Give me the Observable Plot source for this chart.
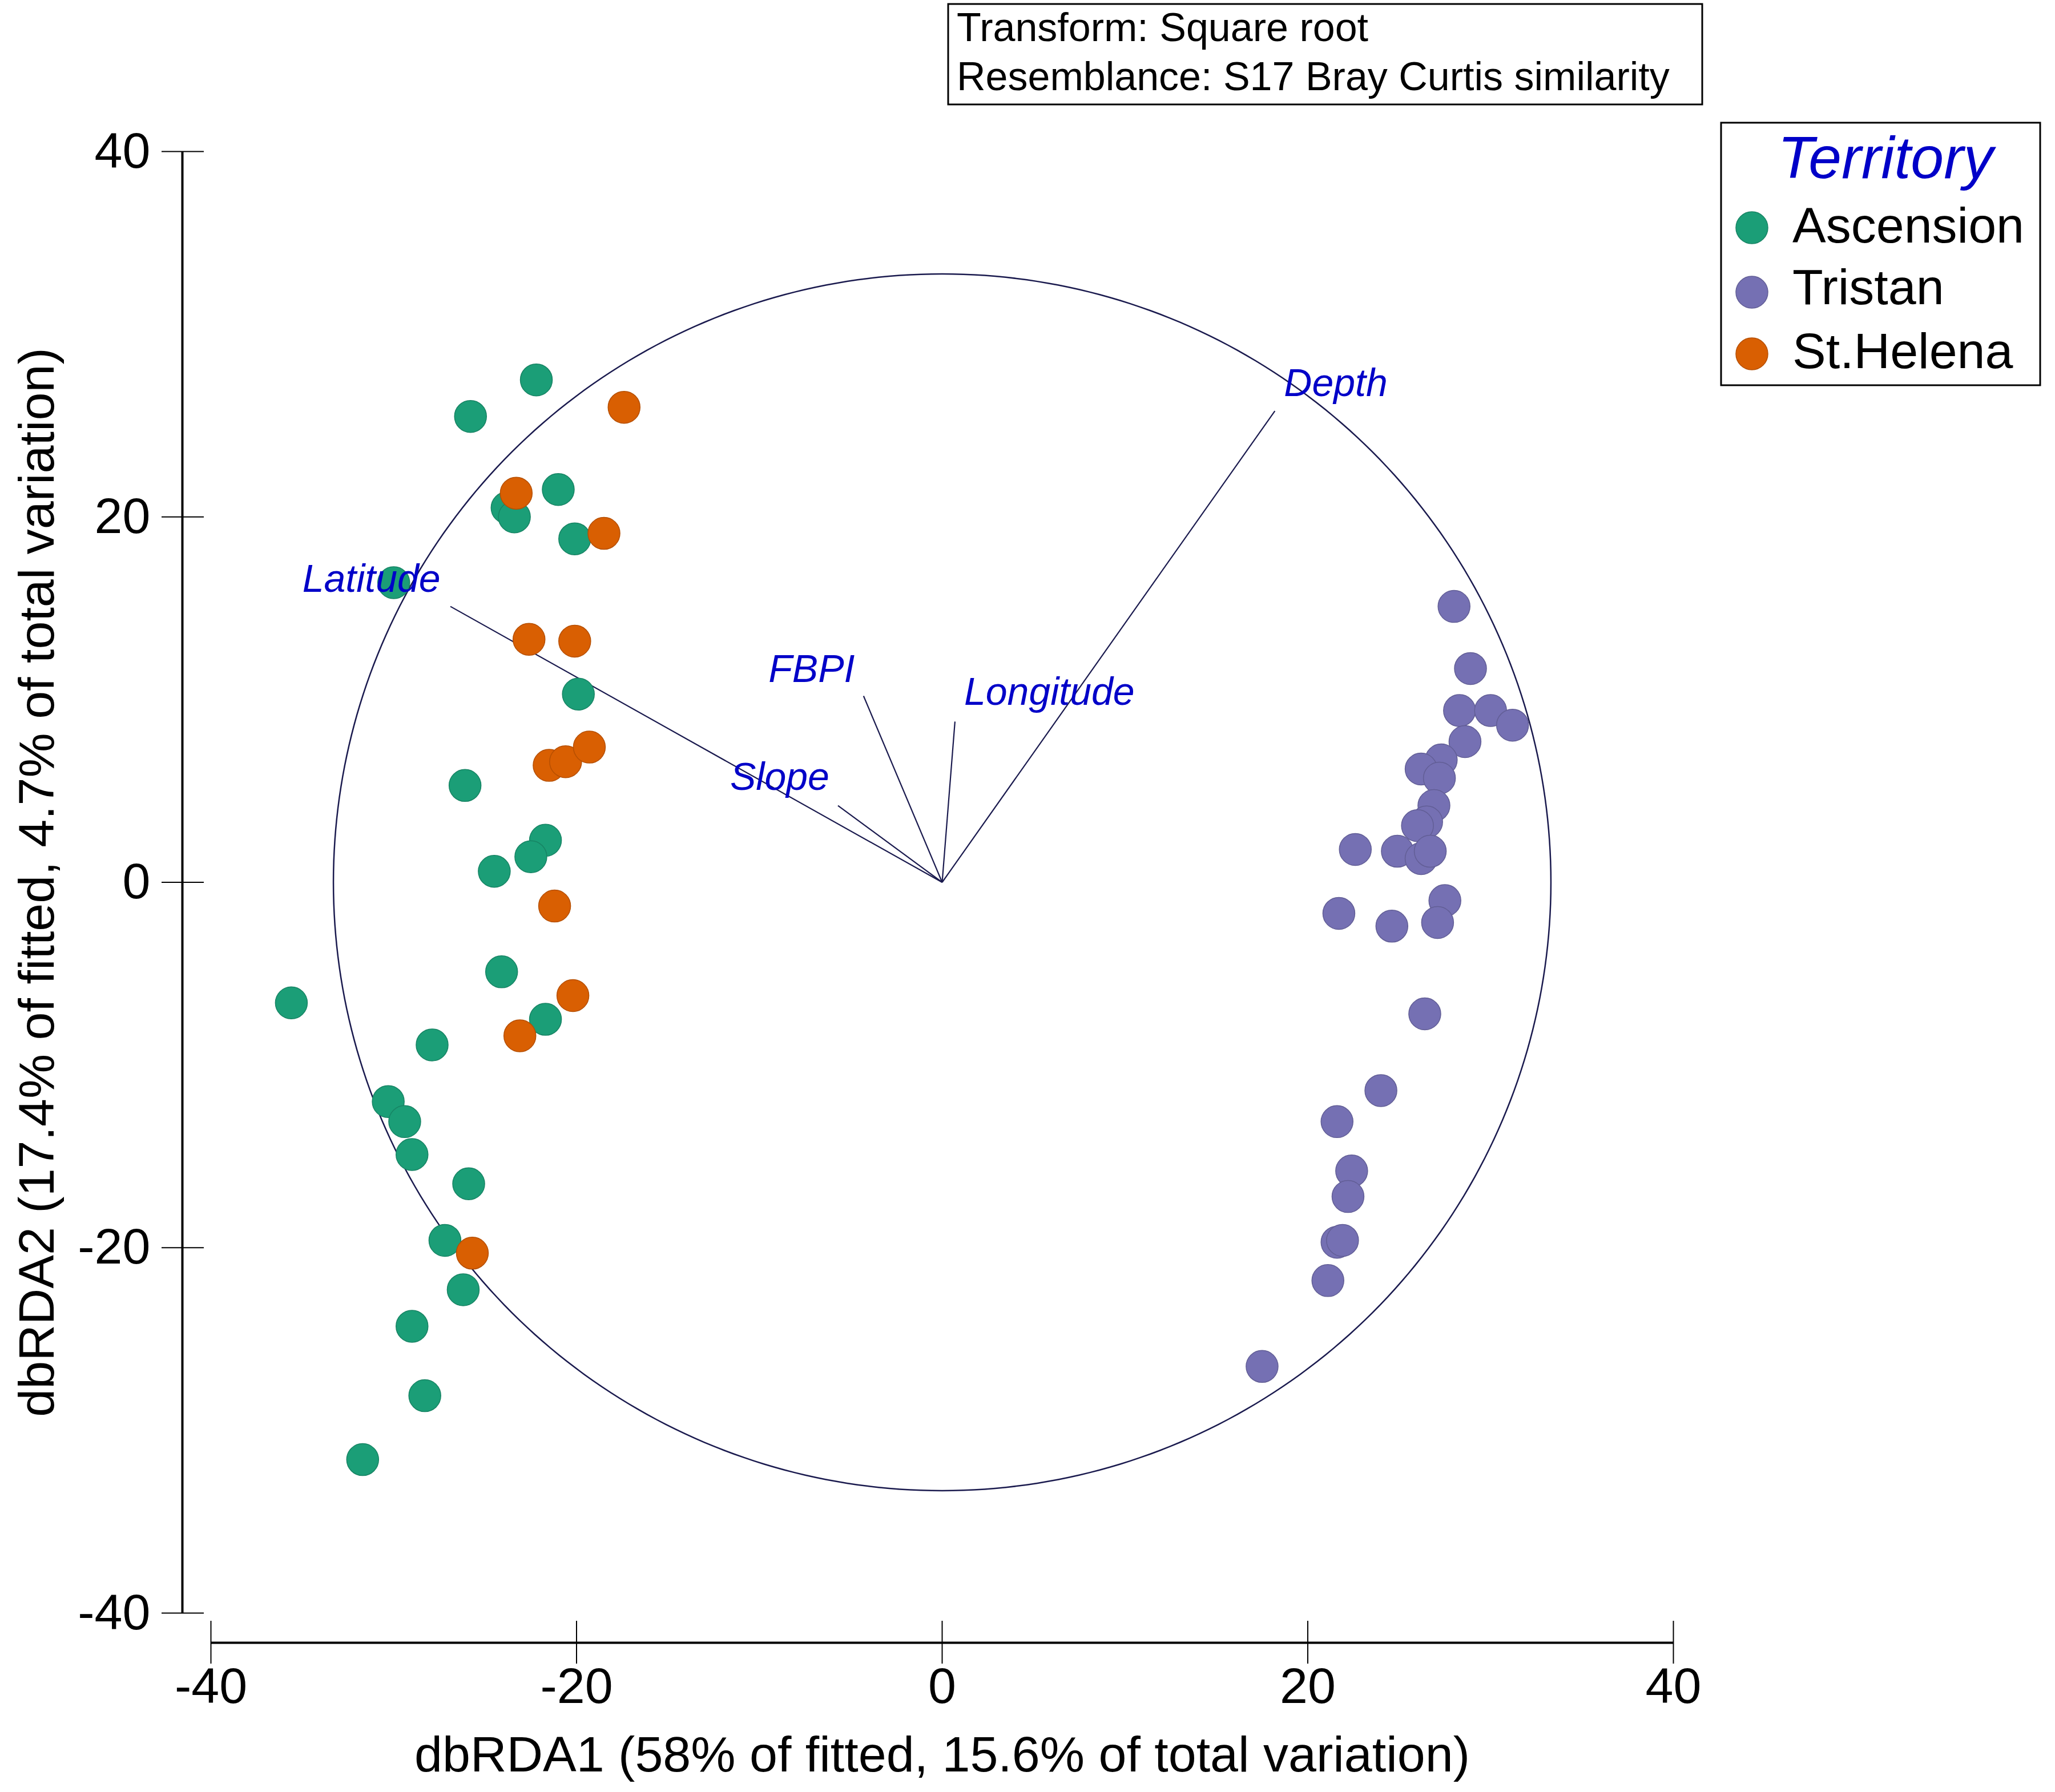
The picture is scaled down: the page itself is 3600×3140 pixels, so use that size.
<!DOCTYPE html>
<html>
<head>
<meta charset="utf-8">
<script src="https://cdn.jsdelivr.net/npm/d3@7"></script>
<script src="https://cdn.jsdelivr.net/npm/@observablehq/plot@0.6"></script>
<style>
  html, body { margin: 0; padding: 0; background: #ffffff; }
  #wrap { position: relative; width: 3600px; height: 3140px; font-family: "Liberation Sans", Arial, sans-serif; }
  #wrap > svg { position: absolute; left: 0; top: 0; }
</style>
</head>
<body>
<div id="wrap"></div>
<script>
// ---------- data ----------
const territories = ["Ascension", "Tristan", "St.Helena"];
const territoryColors = ["#1b9e77", "#7570b3", "#d95f02"];

const ascensionX = [-22.2, -25.8, -23.8, -23.4, -21.0, -20.1, -30.0, -19.9, -26.1, -21.7, -22.5, -24.5, -24.1, -35.6, -21.7, -27.9, -30.3, -29.4, -29.0, -25.9, -27.2, -26.2, -29.0, -28.3, -31.7];
const ascensionY = [27.5, 25.5, 20.5, 20.0, 21.5, 18.8, 16.4, 10.3, 5.3, 2.3, 1.4, 0.6, -4.9, -6.6, -7.5, -8.9, -12.0, -13.1, -14.9, -16.5, -19.6, -22.3, -24.3, -28.1, -31.6];

const tristanX = [28.0, 28.9, 28.3, 30.0, 31.2, 28.6, 27.3, 26.2, 27.2, 26.9, 26.5, 26.0, 24.9, 26.2, 26.7, 22.6, 21.7, 24.6, 27.5, 27.1, 26.4, 24.0, 21.6, 22.4, 22.2, 21.6, 21.9, 21.1, 17.5];
const tristanY = [15.1, 11.7, 9.4, 9.4, 8.6, 7.7, 6.7, 6.2, 5.7, 4.2, 3.3, 3.1, 1.7, 1.3, 1.7, 1.8, -1.7, -2.4, -1.0, -2.2, -7.2, -11.4, -13.1, -15.8, -17.2, -19.7, -19.6, -21.8, -26.5];

const stHelenaX = [-17.4, -23.3, -18.5, -22.6, -20.1, -21.5, -20.6, -19.3, -21.2, -20.2, -23.1, -25.7];
const stHelenaY = [26.0, 21.3, 19.1, 13.3, 13.2, 6.4, 6.6, 7.4, -1.3, -6.2, -8.4, -20.3];

// environmental vectors (end points) and their label positions
const vectorNames = ["Depth", "Longitude", "FBPI", "Slope", "Latitude"];
const vectorX = [18.2, 0.7, -4.3, -5.7, -26.9];
const vectorY = [25.8, 8.8, 10.2, 4.2, 15.1];
const vectorLabelX = [18.7, 1.2, -9.5, -11.6, -35.0];
const vectorLabelY = [26.6, 9.7, 10.95, 5.05, 15.9];

const circleRadius = 33.3;

const xTicks = [-40, -20, 0, 20, 40];
const yTicks = [-40, -20, 0, 20, 40];
const xTitle = "dbRDA1 (58% of fitted, 15.6% of total variation)";
const yTitle = "dbRDA2 (17.4% of fitted, 4.7% of total variation)";
const infoLines = ["Transform: Square root", "Resemblance: S17 Bray Curtis similarity"];
const legendTitle = "Territory";

// ---------- tables ----------
const points = [
  ...ascensionX.map((x, i) => ({territory: "Ascension", x, y: ascensionY[i]})),
  ...tristanX.map((x, i) => ({territory: "Tristan", x, y: tristanY[i]})),
  ...stHelenaX.map((x, i) => ({territory: "St.Helena", x, y: stHelenaY[i]}))
];
const vectors = vectorNames.map((name, i) => ({name, x: vectorX[i], y: vectorY[i], lx: vectorLabelX[i], ly: vectorLabelY[i]}));
const circlePts = d3.range(0, 361, 1).map(a => ({x: circleRadius * Math.cos(a * Math.PI / 180), y: circleRadius * Math.sin(a * Math.PI / 180)}));

const colorOf = t => territoryColors[territories.indexOf(t)];
const strokeOf = t => d3.color(colorOf(t)).darker(0.5).formatHex();
const fmt = d => (d < 0 ? "-" + Math.abs(d) : String(d));
const lineColor = "#1a1a4e";
const labelBlue = "#0000c8";
const fontFam = "Liberation Sans, Arial, sans-serif";

const chart = Plot.plot({
  width: 3600,
  height: 3140,
  marginLeft: 369,
  marginRight: 669,
  marginTop: 265,
  marginBottom: 314,
  x: {domain: [-40, 40]},
  y: {domain: [-40, 40]},
  style: {fontFamily: fontFam, background: "white", color: "black", overflow: "visible"},
  marks: [
    // axes
    Plot.ruleX([-40], {dx: -50, y1: -40, y2: 40, stroke: "black", strokeWidth: 4}),
    Plot.ruleY([-40], {dy: 52, x1: -40, x2: 40, stroke: "black", strokeWidth: 4}),
    Plot.axisY(yTicks, {tickSize: 74, dx: -12, tickPadding: 20, fontSize: 88, tickFormat: fmt, label: null, strokeWidth: 2}),
    Plot.axisX(xTicks, {tickSize: 75, dy: 14, tickPadding: 6, fontSize: 88, tickFormat: fmt, label: null, strokeWidth: 2}),
    Plot.text([xTitle], {frameAnchor: "bottom", dy: 277, lineAnchor: "bottom", textAnchor: "middle", text: d => d, fontSize: 88, fill: "black"}),
    Plot.text([yTitle], {frameAnchor: "left", rotate: -90, dx: -276, lineAnchor: "bottom", textAnchor: "middle", text: d => d, fontSize: 88, fill: "black"}),
    // correlation circle and vectors
    Plot.line(circlePts, {x: "x", y: "y", stroke: lineColor, strokeWidth: 2.5}),
    Plot.link(vectors, {x1: 0, y1: 0, x2: "x", y2: "y", stroke: lineColor, strokeWidth: 2.2}),
    // samples
    Plot.dot(points, {x: "x", y: "y", r: 28, fill: d => colorOf(d.territory), stroke: d => strokeOf(d.territory), strokeWidth: 1.5}),
    // vector labels
    Plot.text(vectors, {x: "lx", y: "ly", text: "name", textAnchor: "start", lineAnchor: "bottom", fill: labelBlue, fontStyle: "italic", fontSize: 68})
  ]
});

const wrap = document.getElementById("wrap");
wrap.appendChild(chart);

// ---------- info box and legend overlay ----------
const ov = d3.select(wrap).append("svg")
  .attr("width", 3600).attr("height", 3140)
  .style("font-family", fontFam);

ov.append("rect").attr("x", 1661).attr("y", 7).attr("width", 1321).attr("height", 176)
  .attr("fill", "white").attr("stroke", "black").attr("stroke-width", 3);
ov.selectAll("text.info").data(infoLines).join("text").attr("class", "info")
  .attr("x", 1676).attr("y", (d, i) => 72 + i * 86)
  .attr("font-size", 70).attr("fill", "black").text(d => d);

ov.append("rect").attr("x", 3015).attr("y", 215).attr("width", 559).attr("height", 460)
  .attr("fill", "white").attr("stroke", "black").attr("stroke-width", 3);
ov.append("text").attr("x", 3303).attr("y", 312).attr("text-anchor", "middle")
  .attr("font-size", 104).attr("font-style", "italic").attr("fill", labelBlue).text(legendTitle);
const items = ov.selectAll("g.item").data(territories).join("g").attr("class", "item")
  .attr("transform", (d, i) => `translate(0, ${[399, 512, 620][i]})`);
items.append("circle").attr("cx", 3069).attr("cy", 0).attr("r", 28)
  .attr("fill", d => colorOf(d)).attr("stroke", d => strokeOf(d)).attr("stroke-width", 1.5);
items.append("text").attr("x", 3140).attr("y", (d, i) => [26, 21, 25][i])
  .attr("font-size", 88).attr("fill", "black").text(d => d);
</script>
</body>
</html>
